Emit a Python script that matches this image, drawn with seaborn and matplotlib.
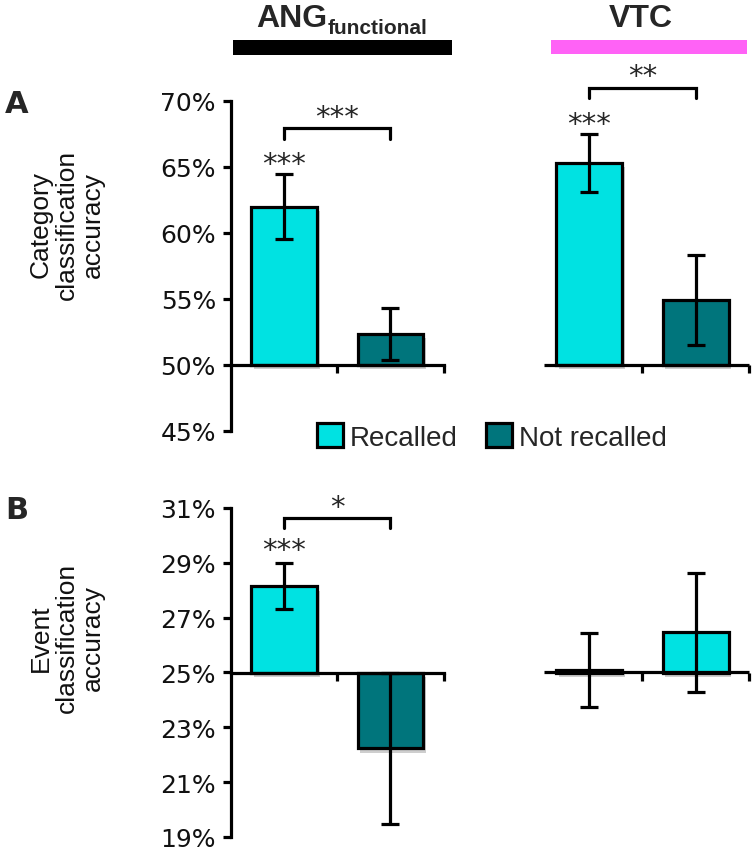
import numpy as np
import pandas as pd
import matplotlib
matplotlib.use("Agg")
import matplotlib.pyplot as plt
import matplotlib.patheffects as pe
from matplotlib.patches import Patch, Rectangle
import seaborn as sns

# ---------------- data ----------------
regions = ["ANG", "ANG", "VTC", "VTC"]
conditions = ["Recalled", "Not recalled", "Recalled", "Not recalled"]
category_acc = [62.0, 52.35, 65.3, 54.9]
category_sem = [2.45, 2.0, 2.17, 3.4]
event_acc = [28.14, 22.23, 25.08, 26.47]
event_sem = [0.84, 2.76, 1.35, 2.17]
category_ticks = [45, 50, 55, 60, 65, 70]
event_ticks = [19, 21, 23, 25, 27, 29, 31]
category_chance = 50
event_chance = 25
legend_labels = ["Recalled", "Not recalled"]
category_ylabel = "Category\nclassification\naccuracy"
event_ylabel = "Event\nclassification\naccuracy"
# significance marks: bar index -> stars ; pairs (bar_a, bar_b, stars)
category_bar_stars = [(0, "***"), (2, "***")]
category_pair_stars = [(0, 1, "***"), (2, 3, "**")]
event_bar_stars = [(0, "***")]
event_pair_stars = [(0, 1, "*")]

# ---------------- style ----------------
CYAN = "#00E2E2"
TEAL = "#00757C"
COND_COLORS = {"Recalled": CYAN, "Not recalled": TEAL}
event_fill = ["Recalled", "Not recalled", "Recalled", "Recalled"]
GROUP_OFFSET = 2.87
LW = 2.3
FONT = ["Liberation Sans", "DejaVu Sans"]

sns.set_style("white")
plt.rcParams["font.family"] = FONT

region_order = ["ANG", "VTC"]
cond_order = ["Recalled", "Not recalled"]
pos = [region_order.index(r) * GROUP_OFFSET + cond_order.index(c)
       for r, c in zip(regions, conditions)]

fig = plt.figure(figsize=(7.53, 8.53), dpi=100)
W, H = 753.0, 853.0
axA = fig.add_axes([231 / W, (H - 432) / H, 522 / W, 330 / H])
axB = fig.add_axes([231 / W, (H - 838) / H, 522 / W, 329 / H])


def draw_panel(ax, values, errs, chance, ticks, fills, bar_stars, pair_stars,
               star_gap, pair_levels):
    df = pd.DataFrame({
        "pos": pos,
        "height": np.array(values) - chance,
        "bar": [f"b{i}" for i in range(len(values))],
    })
    pal = {f"b{i}": COND_COLORS[f] for i, f in enumerate(fills)}
    sns.barplot(data=df, x="pos", y="height", hue="bar", palette=pal,
                native_scale=True, dodge=False, width=0.62, bottom=chance,
                edgecolor="black", linewidth=LW, legend=False, ax=ax,
                errorbar=None, saturation=1)
    for p in ax.patches:
        p.set_path_effects([pe.SimplePatchShadow(offset=(2, -3), shadow_rgbFace=(0.45, 0.45, 0.45), alpha=0.35),
                            pe.Normal()])
        p.set_zorder(2)
    ax.errorbar(pos, values, yerr=errs, fmt="none", ecolor="black",
                elinewidth=LW, capsize=6.5, capthick=LW, zorder=4)
    ax.set_xlim(-0.5, 4.41)
    ax.set_ylim(ticks[0], ticks[-1])
    ax.set_xlabel("")
    ax.set_ylabel("")
    for s in ["top", "right"]:
        ax.spines[s].set_visible(False)
    ax.spines["left"].set_bounds(ticks[0], ticks[-1])
    ax.spines["left"].set_linewidth(LW)
    ax.spines["left"].set_color("black")
    ax.spines["bottom"].set_position(("data", chance))
    ax.spines["bottom"].set_bounds(-0.5, 1.5)
    ax.spines["bottom"].set_linewidth(LW)
    ax.spines["bottom"].set_color("black")
    ax.spines["bottom"].set_zorder(3)
    ax.hlines(chance, GROUP_OFFSET - 0.43, GROUP_OFFSET + 1.5, color="black",
              lw=LW, zorder=3, capstyle="butt")
    ax.set_xticks([0.5, 1.5, GROUP_OFFSET + 0.5, GROUP_OFFSET + 1.5])
    ax.set_xticklabels([])
    ax.set_yticks(ticks)
    ax.set_yticklabels([f"{t}%" for t in ticks])
    ax.tick_params(axis="both", direction="out", length=5.8, width=LW,
                   color="black", bottom=True, left=True)
    ax.tick_params(axis="y", labelsize=18, pad=5, labelcolor="#111111")
    for lab in ax.get_yticklabels():
        lab.set_family(["DejaVu Sans"])
    ax.patch.set_alpha(0)
    # stars above bars
    for i, txt in bar_stars:
        top = values[i] + errs[i]
        ax.annotate(txt, xy=(pos[i], top + star_gap), ha="center", va="center",
                    fontsize=21, family=["DejaVu Sans"], annotation_clip=False,
                    xytext=(0, -5.5), textcoords="offset points")
    for (a, b, txt), (ytop, drop, ytxt) in zip(pair_stars, pair_levels):
        xa, xb = pos[a], pos[b]
        ax.plot([xa, xa, xb, xb], [ytop - drop, ytop, ytop, ytop - drop],
                color="black", lw=LW, clip_on=False, solid_joinstyle="miter")
        ax.annotate(txt, xy=((xa + xb) / 2, ytxt), ha="center", va="center",
                    fontsize=21, family=["DejaVu Sans"], annotation_clip=False,
                    xytext=(0, -5.5), textcoords="offset points")


draw_panel(axA, category_acc, category_sem, category_chance, category_ticks,
           conditions, category_bar_stars, category_pair_stars, 1.35,
           [(67.95, 0.85, 69.35), (71.0, 0.8, 72.5)])
draw_panel(axB, event_acc, event_sem, event_chance, event_ticks,
           event_fill, event_bar_stars, event_pair_stars, 0.75,
           [(30.63, 0.37, 31.3)])

# y labels
fig.text(67 / W, (H - 225) / H, category_ylabel, rotation=90, ha="center",
         va="center", multialignment="center", fontsize=19, linespacing=1.12,
         color="#111111")
fig.text(67 / W, (H - 638) / H, event_ylabel, rotation=90, ha="center",
         va="center", multialignment="center", fontsize=19, linespacing=1.12,
         color="#111111")

# panel letters
fig.text(5 / W, (H - 113) / H, "A", fontsize=22, fontweight="bold",
         family=["DejaVu Sans"], ha="left", va="baseline")
fig.text(5 / W, (H - 519) / H, "B", fontsize=22, fontweight="bold",
         family=["DejaVu Sans"], ha="left", va="baseline")

# headers
fig.text(327 / W, (H - 27) / H, "ANG", fontsize=23, fontweight="bold",
         ha="right", va="baseline")
fig.text(328 / W, (H - 34) / H, "functional", fontsize=15, fontweight="bold",
         ha="left", va="baseline")
fig.text(641 / W, (H - 27) / H, "VTC", fontsize=23, fontweight="bold",
         ha="center", va="baseline")
fig.add_artist(Rectangle((233 / W, (H - 56) / H), 219 / W, 15 / H,
                         transform=fig.transFigure, color="black", lw=0))
fig.add_artist(Rectangle((551 / W, (H - 55) / H), 196 / W, 14 / H,
                         transform=fig.transFigure, color="#FF62F6", lw=0))

# legend
handles = [Patch(facecolor=COND_COLORS[c], edgecolor="black", linewidth=LW)
           for c in legend_labels]
fig.legend(handles, legend_labels, loc="center", bbox_to_anchor=(492 / W, (H - 438) / H),
           ncol=2, frameon=False, fontsize=20, handlelength=0.95, handleheight=0.95,
           handletextpad=0.25, columnspacing=1.0, borderpad=0, borderaxespad=0)

fig.savefig("out.png", dpi=100)
